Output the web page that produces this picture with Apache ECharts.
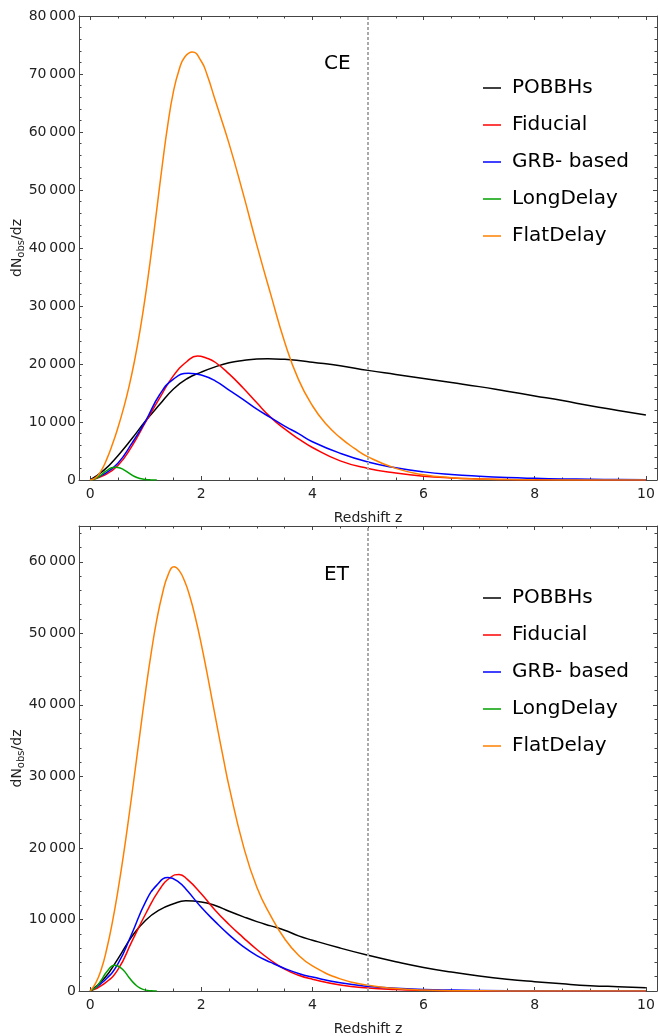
<!DOCTYPE html>
<html><head><meta charset="utf-8">
<script src="https://cdn.jsdelivr.net/npm/echarts@6/dist/echarts.min.js"></script>
<style>html,body{margin:0;padding:0;background:#fff}#c{width:658px;height:1036px}</style>
</head><body><div id="c"></div>
<script>
// ---------- DATA ----------
const seriesNames = ['POBBHs', 'Fiducial', 'GRB- based', 'LongDelay', 'FlatDelay'];
const panelLabels = ['CE', 'ET'];
const xMajorTicks = [0, 2, 4, 6, 8, 10];
const xMinorTicks = [0.5, 1, 1.5, 2.5, 3, 3.5, 4.5, 5, 5.5, 6.5, 7, 7.5, 8.5, 9, 9.5];
const yMajorCE = [0, 10000, 20000, 30000, 40000, 50000, 60000, 70000, 80000];
const yMajorET = [0, 10000, 20000, 30000, 40000, 50000, 60000];
const yMaxCE = 80000;
const yMaxET = 65000;
const zDetector = 5;

// CE panel
const ceBlackZ = [0,0.25,0.5,0.75,1,1.25,1.5,1.75,2,2.25,2.5,2.75,3,3.2,3.5,3.75,4,4.5,5,5.5,6,6.5,7,7.5,8,8.5,9,9.5,10];
const ceBlackV = [0,1700,4200,7100,10200,13000,15700,17500,18600,19500,20200,20600,20850,20900,20800,20600,20300,19700,18900,18200,17500,16800,16100,15300,14500,13700,12800,12000,11200];
const ceRedZ = [0,0.25,0.5,0.75,1,1.25,1.5,1.75,1.93,2.1,2.25,2.5,2.75,3,3.25,3.5,3.75,4,4.5,5,5.5,6,6.5,7,7.5,8,9,10];
const ceRedV = [0,800,2500,5800,10000,14100,18000,20500,21400,21000,20300,18300,15900,13300,10800,8800,7100,5600,3300,2000,1200,650,350,180,90,50,10,0];
const ceBlueZ = [0,0.25,0.5,0.75,1,1.25,1.5,1.77,2,2.25,2.5,2.75,3,3.25,3.5,3.75,4,4.5,5,5.5,6,6.5,7,7.5,8,8.5,9,9.5,10];
const ceBlueV = [0,1000,2900,6300,10200,14700,17400,18400,18100,17100,15500,13900,12200,10750,9300,8000,6600,4600,3100,2100,1400,950,650,430,290,190,130,90,60];
const ceGreenZ = [0,0.1,0.2,0.3,0.43,0.5,0.6,0.7,0.8,0.9,1.0,1.1,1.2];
const ceGreenV = [0,250,900,1600,2200,2150,1800,1200,600,250,70,15,0];
const ceOrangeZ = [0,0.1,0.2,0.3,0.4,0.5,0.6,0.7,0.8,0.9,1.0,1.1,1.2,1.3,1.4,1.5,1.6,1.7,1.84,2.0,2.1,2.25,2.5,2.75,3.0,3.25,3.5,3.75,4.0,4.25,4.5,4.75,5,5.5,6,6.5,7,7.5,8,9,10];
const ceOrangeV = [0,400,1600,3600,6100,9000,12300,16100,20600,25900,32100,39100,46700,54400,61400,67000,70700,72900,73800,72200,70000,65500,58000,49500,40500,32000,23800,17300,12800,9600,7300,5500,4000,2000,900,400,180,80,30,5,0];

// ET panel
const etBlackZ = [0,0.25,0.5,0.75,1,1.25,1.5,1.72,2,2.25,2.5,2.75,3,3.25,3.5,3.75,4,4.5,5,5.5,6,6.5,7,7.5,8,8.5,9,9.5,10];
const etBlackV = [0,1700,4500,7600,9900,11350,12200,12600,12450,11950,11150,10400,9700,9100,8500,7700,7100,6000,5000,4100,3300,2650,2100,1650,1300,1000,750,600,470];
const etRedZ = [0,0.25,0.5,0.75,1,1.25,1.45,1.6,1.75,2,2.25,2.5,2.75,3,3.25,3.5,3.75,4,4.5,5,5.5,6,6.5,7,8,10];
const etRedV = [0,1000,3000,6900,10800,14200,15900,16300,15600,13600,11300,9300,7500,5800,4300,3050,2200,1650,850,420,200,90,40,15,0,0];
const etBlueZ = [0,0.25,0.5,0.75,1,1.2,1.4,1.6,1.75,2,2.25,2.5,2.75,3,3.25,3.5,3.75,4,4.5,5,5.5,6,6.5,7,8,9,10];
const etBlueV = [0,1400,3800,8000,12500,14800,15850,15200,14000,11700,9700,7850,6250,4950,4000,3150,2450,1950,1150,650,380,220,130,70,20,5,0];
const etGreenZ = [0,0.1,0.2,0.3,0.44,0.5,0.6,0.7,0.8,0.9,1.0,1.1,1.2];
const etGreenV = [0,500,1500,2700,3600,3500,2900,1900,1000,400,120,30,0];
const etOrangeZ = [0,0.1,0.2,0.3,0.4,0.5,0.6,0.7,0.8,0.9,1.0,1.1,1.2,1.3,1.4,1.51,1.6,1.7,1.8,1.9,2.0,2.1,2.2,2.3,2.4,2.5,2.75,3.0,3.25,3.5,3.75,4.0,4.5,5,5.5,6,6.5,7,8,10];
const etOrangeV = [0,1100,3000,5900,9600,14000,19000,24500,30300,36200,42000,47300,51900,55500,58100,59300,58800,57300,55000,52000,48500,44600,40500,36400,32400,28600,20500,14500,10500,7300,5000,3500,1700,800,350,140,50,20,0,0];

// ---------- CHART ----------
const FONT = 'DejaVu Sans';
const colors = ['#000000', '#ff0000', '#0000ff', '#00a000', '#ff8000'];
const AX = '#444';
const fmt = v => { const s = String(Math.round(v)); return s.length > 3 ? s.slice(0, -3) + '\u2009' + s.slice(-3) : s; };

const grids = [
  { left: 79, top: 16, width: 578, height: 464, outerBoundsMode: 'none', containLabel: false },
  { left: 79, top: 526, width: 578, height: 465, outerBoundsMode: 'none', containLabel: false }
];
const yMaxes = [yMaxCE, yMaxET];
const yMajors = [yMajorCE, yMajorET];

const xAxes = [], yAxes = [];
for (let g = 0; g < 2; g++) {
  const yMinor = [];
  for (let v = 2000; v < yMaxes[g]; v += 2000) if (v % 10000 !== 0) yMinor.push(v);
  const xBase = { type: 'value', gridIndex: g, min: -0.2, max: 10.2, splitLine: { show: false } };
  const yBase = { type: 'value', gridIndex: g, min: 0, max: yMaxes[g], splitLine: { show: false } };
  xAxes.push(Object.assign({}, xBase, {
    position: 'bottom',
    axisLine: { show: true, onZero: false, lineStyle: { color: AX, width: 1 } },
    axisTick: { show: true, inside: true, length: 4, customValues: xMajorTicks, lineStyle: { color: AX } },
    axisLabel: { show: true, customValues: xMajorTicks, margin: 7, fontFamily: FONT, fontSize: 14, color: '#222' },
    name: 'Redshift z', nameLocation: 'middle', nameGap: 31,
    nameTextStyle: { fontFamily: FONT, fontSize: 14, color: '#222' }
  }));
  xAxes.push(Object.assign({}, xBase, {
    position: 'bottom', axisLine: { show: false, onZero: false },
    axisTick: { show: true, inside: true, length: 2.5, customValues: xMinorTicks, lineStyle: { color: AX } },
    axisLabel: { show: false }
  }));
  xAxes.push(Object.assign({}, xBase, {
    position: 'top',
    axisLine: { show: true, onZero: false, lineStyle: { color: AX, width: 1 } },
    axisTick: { show: true, inside: true, length: 4, customValues: xMajorTicks, lineStyle: { color: AX } },
    axisLabel: { show: false }
  }));
  xAxes.push(Object.assign({}, xBase, {
    position: 'top', axisLine: { show: false, onZero: false },
    axisTick: { show: true, inside: true, length: 2.5, customValues: xMinorTicks, lineStyle: { color: AX } },
    axisLabel: { show: false }
  }));
  yAxes.push(Object.assign({}, yBase, {
    position: 'left',
    axisLine: { show: true, onZero: false, lineStyle: { color: AX, width: 1 } },
    axisTick: { show: true, inside: true, length: 4, customValues: yMajors[g], lineStyle: { color: AX } },
    axisLabel: { show: true, customValues: yMajors[g], margin: 3, formatter: fmt, fontFamily: FONT, fontSize: 14, color: '#222' },
    name: '{a|dN}{b|obs}{a|/dz}', nameLocation: 'middle', nameGap: 53, nameRotate: 90,
    nameMoveOverlap: false,
    nameTextStyle: {
      fontFamily: FONT, color: '#222',
      rich: {
        a: { fontFamily: FONT, fontSize: 14, lineHeight: 18, verticalAlign: 'middle', color: '#222' },
        b: { fontFamily: FONT, fontSize: 10, lineHeight: 10, verticalAlign: 'bottom', color: '#222' }
      }
    }
  }));
  yAxes.push(Object.assign({}, yBase, {
    position: 'left', axisLine: { show: false, onZero: false },
    axisTick: { show: true, inside: true, length: 2.5, customValues: yMinor, lineStyle: { color: AX } },
    axisLabel: { show: false }
  }));
  yAxes.push(Object.assign({}, yBase, {
    position: 'right',
    axisLine: { show: true, onZero: false, lineStyle: { color: AX, width: 1 } },
    axisTick: { show: true, inside: true, length: 4, customValues: yMajors[g], lineStyle: { color: AX } },
    axisLabel: { show: false }
  }));
  yAxes.push(Object.assign({}, yBase, {
    position: 'right', axisLine: { show: false, onZero: false },
    axisTick: { show: true, inside: true, length: 2.5, customValues: yMinor, lineStyle: { color: AX } },
    axisLabel: { show: false }
  }));
}

const panelData = [
  [[ceBlackZ, ceBlackV], [ceRedZ, ceRedV], [ceBlueZ, ceBlueV], [ceGreenZ, ceGreenV], [ceOrangeZ, ceOrangeV]],
  [[etBlackZ, etBlackV], [etRedZ, etRedV], [etBlueZ, etBlueV], [etGreenZ, etGreenV], [etOrangeZ, etOrangeV]]
];

const series = [];
for (let g = 0; g < 2; g++) {
  panelData[g].forEach((pair, i) => {
    const s = {
      type: 'line', name: seriesNames[i],
      xAxisIndex: g * 4, yAxisIndex: g * 4,
      data: pair[0].map((z, k) => [z, pair[1][k]]),
      showSymbol: false, smooth: 0.5,
      lineStyle: { width: 1.5, color: colors[i] },
      itemStyle: { color: colors[i] },
      emphasis: { disabled: true }
    };
    if (i === 0) {
      s.markLine = {
        silent: true, symbol: 'none', label: { show: false },
        lineStyle: { color: '#aaaaaa', width: 2, type: [3, 2] },
        data: [{ xAxis: zDetector }]
      };
    }
    series.push(s);
  });
}

const legendBase = {
  data: seriesNames, orient: 'vertical', left: 478,
  itemWidth: 18, itemHeight: 1.5, itemGap: 15, icon: 'rect', selectedMode: false,
  textStyle: { fontFamily: FONT, fontSize: 20, color: '#000', lineHeight: 22, padding: [0, 0, 0, 6] }
};

const option = {
  animation: false,
  backgroundColor: '#fff',
  grid: grids,
  xAxis: xAxes,
  yAxis: yAxes,
  legend: [Object.assign({}, legendBase, { top: 72 }), Object.assign({}, legendBase, { top: 582 })],
  graphic: [
    { type: 'text', left: 324, top: 54, style: { text: panelLabels[0], fontFamily: FONT, fontSize: 20, fill: '#000' } },
    { type: 'text', left: 324, top: 565, style: { text: panelLabels[1], fontFamily: FONT, fontSize: 20, fill: '#000' } }
  ],
  series: series
};

const chart = echarts.init(document.getElementById('c'), null, { renderer: 'canvas' });
chart.setOption(option);
</script>
</body></html>
